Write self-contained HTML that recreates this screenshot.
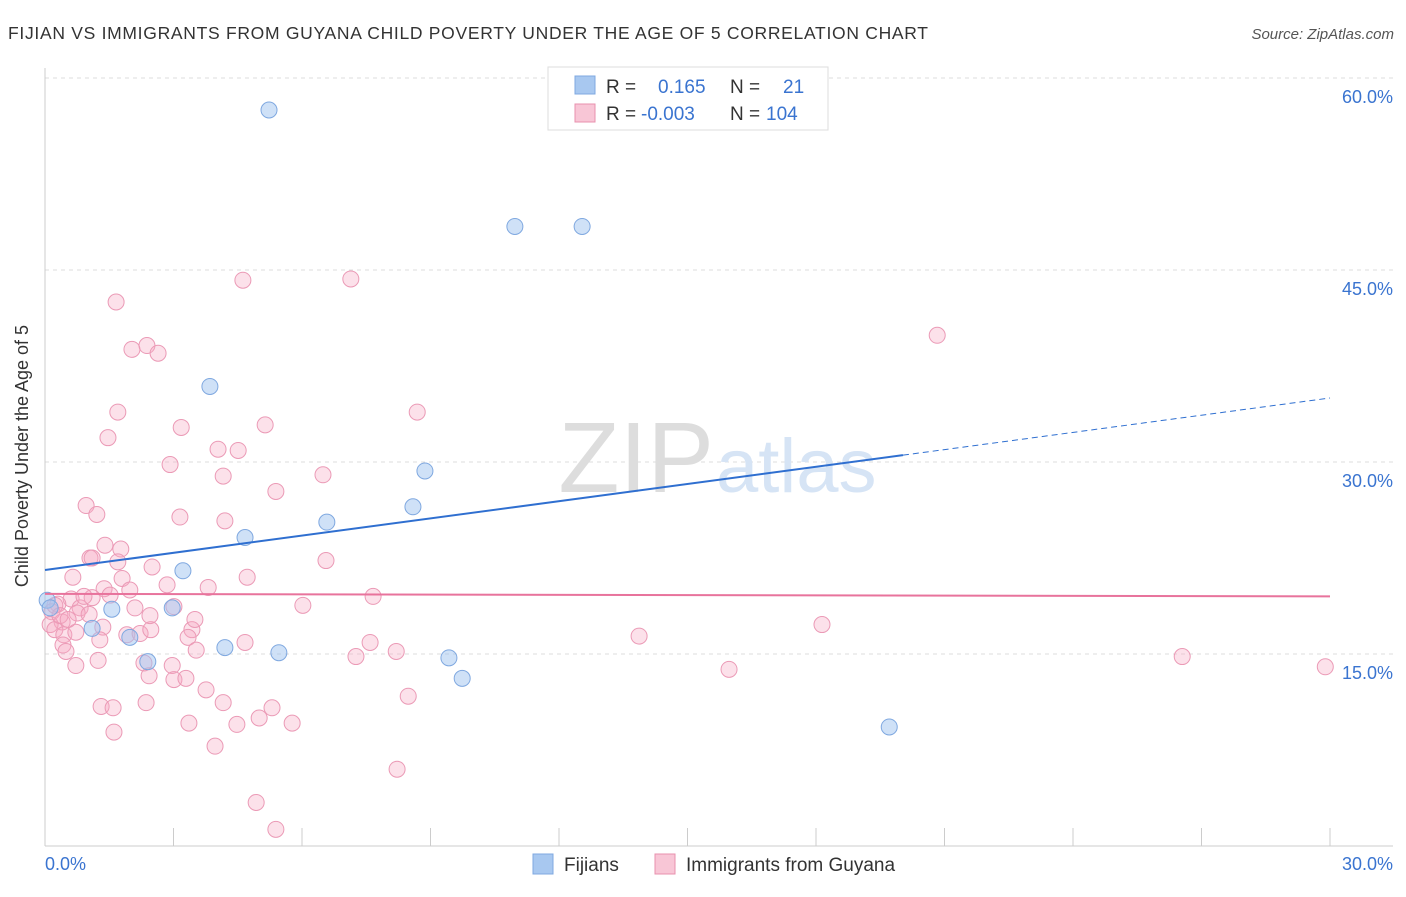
<!DOCTYPE html>
<html><head><meta charset="utf-8"><style>
body{margin:0;background:#fff;font-family:"Liberation Sans",sans-serif}
svg text{font-family:"Liberation Sans",sans-serif}
</style></head><body>
<svg id="chart" width="1406" height="892" xmlns="http://www.w3.org/2000/svg">
<text x="8" y="39" font-size="17.5" fill="#333" textLength="920" lengthAdjust="spacing">FIJIAN VS IMMIGRANTS FROM GUYANA CHILD POVERTY UNDER THE AGE OF 5 CORRELATION CHART</text>
<text x="1394" y="39" font-size="15" fill="#555" font-style="italic" text-anchor="end">Source: ZipAtlas.com</text>
<g id="grid"></g>
<text x="714" y="492" font-size="100" fill="#ddd" text-anchor="end" font-family="Liberation Serif">ZIP</text>
<text x="716" y="492" font-size="76" fill="#d6e4f5">atlas</text>
<g id="marks"></g>
<text x="28" y="456" font-size="18" fill="#333" text-anchor="middle" transform="rotate(-90 28 456)">Child Poverty Under the Age of 5</text>
<g>
<rect x="548" y="67" width="280" height="63" fill="#fff" stroke="#ddd"/>
<rect x="575" y="76" width="20" height="18" fill="#a8c8f0" stroke="#7fa8e0"/>
<rect x="575" y="104" width="20" height="18" fill="#f8c6d6" stroke="#e890ae"/>
<text x="606" y="93" font-size="19" fill="#333">R = <tspan x="658" fill="#3a74d0">0.165</tspan><tspan x="730" fill="#333">N =</tspan><tspan x="783" fill="#3a74d0">21</tspan></text>
<text x="606" y="120" font-size="19" fill="#333">R = <tspan x="641" fill="#3a74d0">-0.003</tspan><tspan x="730" fill="#333">N =</tspan><tspan x="766" fill="#3a74d0">104</tspan></text>
</g>
<g>
<rect x="533" y="854" width="20" height="20" fill="#a8c8f0" stroke="#7fa8e0"/>
<text x="564" y="871" font-size="19" fill="#333">Fijians</text>
<rect x="655" y="854" width="20" height="20" fill="#f8c6d6" stroke="#e890ae"/>
<text x="686" y="871" font-size="19" fill="#333">Immigrants from Guyana</text>
</g>
<text x="45" y="870" font-size="18" fill="#3a74d0">0.0%</text>
<text x="1393" y="870" font-size="18" fill="#3a74d0" text-anchor="end">30.0%</text>
</svg>
<script>
const yTicks=[15,30,45,60];
const fijX=[5.23,10.97,12.54,3.85,8.87,8.59,6.58,4.67,3.22,1.56,2.97,1.10,1.98,2.40,4.20,5.46,9.43,9.74,19.71,0.05,0.12];
const fijY=[57.5,48.4,48.4,35.9,29.3,26.5,25.3,24.1,21.5,18.5,18.6,17.0,16.3,14.4,15.5,15.1,14.7,13.1,9.3,19.2,18.6];
const guyX=[7.14,4.62,1.66,20.83,2.38,2.03,2.64,8.69,1.70,3.18,5.14,1.47,4.04,4.51,2.92,6.49,4.16,5.39,0.96,1.21,3.15,4.20,6.56,1.05,1.10,1.40,1.77,1.70,2.50,0.65,4.72,1.80,2.85,3.81,1.38,7.66,1.52,0.61,1.10,0.30,0.82,2.10,3.01,6.02,0.16,0.75,1.03,0.40,0.12,0.23,0.44,0.72,1.35,1.91,2.22,2.47,3.43,3.34,4.67,7.59,13.87,18.14,7.26,8.20,0.42,0.49,3.53,1.24,0.72,2.31,2.97,15.97,26.55,29.89,2.43,3.01,3.29,3.76,8.48,1.31,1.59,2.36,4.16,5.30,3.36,4.48,5.00,5.77,1.61,3.97,8.22,4.93,5.39,0.23,0.35,0.54,0.91,1.28,1.98,2.45,3.50];
const guyY=[44.3,44.2,42.5,39.9,39.1,38.8,38.5,33.9,33.9,32.7,32.9,31.9,31.0,30.9,29.8,29.0,28.9,27.7,26.6,25.9,25.7,25.4,22.3,22.5,22.5,23.5,23.2,22.2,21.8,21.0,21.0,20.9,20.4,20.2,20.1,19.5,19.6,19.3,19.4,18.9,18.6,18.6,18.7,18.8,18.3,18.2,18.1,17.5,17.3,16.9,16.5,16.7,17.1,16.5,16.6,16.9,16.9,16.3,15.9,15.9,16.4,17.3,14.8,15.2,15.7,15.2,15.3,14.5,14.1,14.3,14.1,13.8,14.8,14.0,13.3,13.0,13.1,12.2,11.7,10.9,10.8,11.2,11.2,10.8,9.6,9.5,10.0,9.6,8.9,7.8,6.0,3.4,1.3,18.8,18.0,17.7,19.5,16.1,20.0,18.0,17.7];
const fijTrend=[21.56,35.0]; const fijSolidEnd=20.03;
const guyTrend=[19.7,19.5];
const NS='http://www.w3.org/2000/svg';
const X=v=>45+v*(1285/30), Y=v=>846-v*12.8;
const grid=document.getElementById('grid'), marks=document.getElementById('marks');
function mk(tag,attrs,parent){const e=document.createElementNS(NS,tag);for(const k in attrs)e.setAttribute(k,attrs[k]);parent.appendChild(e);return e;}
yTicks.forEach(t=>{
  const l=mk('line',{x1:45,x2:1393,y1:Y(t),y2:Y(t),stroke:'#ddd','stroke-dasharray':'4,4'},grid);
  
  
  const tx=mk('text',{x:1393,y:Y(t)+25,'font-size':18,fill:'#3a74d0','text-anchor':'end'},grid);
  tx.textContent=t.toFixed(1)+'%';
  
  
});
const ax=mk('line',{x1:45,x2:1393,y1:846,y2:846,stroke:'#ccc'},grid);


const ay=mk('line',{x1:45,x2:45,y1:68,y2:846,stroke:'#ccc'},grid);


for(let i=0;i<=10;i++){const t=mk('line',{x1:X(i*3),x2:X(i*3),y1:828,y2:846,stroke:'#ccc'},grid);
  
  }
guyX.forEach((v,i)=>{const c=mk('circle',{cx:X(v),cy:Y(guyY[i]),r:8,fill:'rgba(245,170,195,0.35)',stroke:'#eb9ab6','stroke-width':1},marks);
  
  });
fijX.forEach((v,i)=>{const c=mk('circle',{cx:X(v),cy:Y(fijY[i]),r:8,fill:'rgba(160,195,240,0.5)',stroke:'#7fa8e0','stroke-width':1},marks);
  
  });
const fy=x=>fijTrend[0]+(fijTrend[1]-fijTrend[0])*x/30;
const l1=mk('line',{x1:X(0),y1:Y(fy(0)),x2:X(fijSolidEnd),y2:Y(fy(fijSolidEnd)),stroke:'#2f6fd0','stroke-width':2},marks);


const l2=mk('line',{x1:X(fijSolidEnd),y1:Y(fy(fijSolidEnd)),x2:X(30),y2:Y(fy(30)),stroke:'#2f6fd0','stroke-width':1,'stroke-dasharray':'6,4'},marks);


const l3=mk('line',{x1:X(0),y1:Y(guyTrend[0]),x2:X(30),y2:Y(guyTrend[1]),stroke:'#e8739c','stroke-width':2},marks);


</script>
</body></html>
